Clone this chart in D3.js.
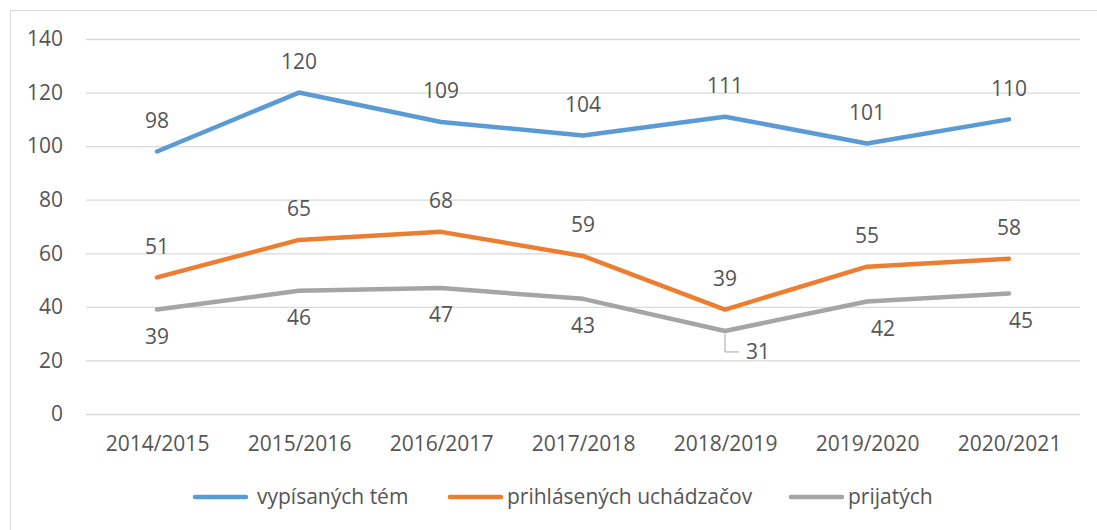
<!DOCTYPE html>
<html lang="sk">
<head>
<meta charset="UTF-8">
<title>Témy a uchádzači</title>
<script src="https://d3js.org/d3.v7.min.js"></script>
<style>
    body { margin: 0; background: #fff; font-family: "Open Sans", sans-serif; }
    svg { display: block; }
    text { fill: #555555; }
</style>
</head>
<body>
<svg id="chart" width="1097" height="530"></svg>
<script>
    const years = ["2014/2015", "2015/2016", "2016/2017", "2017/2018", "2018/2019", "2019/2020", "2020/2021"];
    const temy = [98, 120, 109, 104, 111, 101, 110];
    const uchadzaci = [51, 65, 68, 59, 39, 55, 58];
    const prijati = [39, 46, 47, 43, 31, 42, 45];
    const yTicks = [0, 20, 40, 60, 80, 100, 120, 140];

    const series = [
        { name: "vypísaných tém", values: temy, color: "#5B9BD5", labelPos: "above" },
        { name: "prihlásených uchádzačov", values: uchadzaci, color: "#ED7D31", labelPos: "above" },
        { name: "prijatých", values: prijati, color: "#A5A5A5", labelPos: "below" }
    ];

    const width = 1097, height = 530;
    const margin = {top: 39, right: 17, bottom: 116, left: 86};
    const fontSize = "21px";
    const svg = d3.select("#chart");

    // outer frame
    svg.append("rect")
        .attr("x", 10.5).attr("y", 10.5)
        .attr("width", width).attr("height", height)
        .attr("fill", "none").attr("stroke", "#d9d9d9");

    const x = d3.scalePoint()
        .domain(years)
        .range([margin.left, width - margin.right])
        .padding(0.5);

    const y = d3.scaleLinear()
        .domain([0, 140])
        .range([height - margin.bottom, margin.top]);

    // grid + y labels
    const yAxis = d3.axisLeft(y).tickValues(yTicks)
        .tickSize(-(width - margin.left - margin.right))
        .tickPadding(23);
    const gy = svg.append("g")
        .attr("transform", `translate(${margin.left},0)`)
        .call(yAxis);
    gy.select(".domain").remove();
    gy.selectAll("line").attr("stroke", "#d9d9d9").attr("stroke-width", 1.3);
    gy.selectAll("text").style("font-size", fontSize).attr("fill", "#555555")
        .attr("font-family", "Open Sans");

    const xAxis = d3.axisBottom(x).tickSize(0).tickPadding(22);
    const gx = svg.append("g")
        .attr("transform", `translate(0,${height - margin.bottom})`)
        .call(xAxis);
    gx.select(".domain").remove();
    gx.selectAll("text").style("font-size", fontSize).attr("fill", "#555555")
        .attr("font-family", "Open Sans");

    const line = d3.line()
        .x((d, i) => x(years[i]))
        .y(d => y(d));

    series.forEach(s => {
        svg.append("path")
            .datum(s.values)
            .attr("fill", "none")
            .attr("stroke", s.color)
            .attr("stroke-width", 4.5)
            .attr("stroke-linejoin", "round")
            .attr("stroke-linecap", "round")
            .attr("d", line);
    });

    // label nudges (dx, dy in px, leader line) where the original moved them
    const nudge = { "prijatých": { 4: [33, -6, true], 5: [16, 0], 6: [12, 0] } };

    series.forEach(s => {
        s.values.forEach((v, i) => {
            const n = (nudge[s.name] && nudge[s.name][i]) || [0, 0];
            const px = x(years[i]), py = y(v);
            const ly = py + (s.labelPos === "above" ? -31 : 27) + n[1];
            const lx = px + n[0];
            if (n[2]) {
                svg.append("path")
                    .attr("d", `M${px},${py + 3} V${ly} H${lx - 19}`)
                    .attr("fill", "none")
                    .attr("stroke", "#a5a5a5")
                    .attr("stroke-width", 1);
            }
            svg.append("text")
                .attr("x", lx)
                .attr("y", ly)
                .attr("dy", "0.35em")
                .attr("text-anchor", "middle")
                .style("font-size", fontSize)
                .text(v);
        });
    });

    // legend
    const legendY = 497;
    const legendX = [193, 448, 789];
    series.forEach((s, i) => {
        const g = svg.append("g").attr("transform", `translate(${legendX[i]},${legendY})`);
        g.append("line")
            .attr("x1", 2).attr("x2", 53)
            .attr("stroke", s.color)
            .attr("stroke-width", 4.5)
            .attr("stroke-linecap", "round");
        g.append("text")
            .attr("x", i === 0 ? 64 : 59)
            .attr("dy", "0.35em")
            .style("font-size", fontSize)
            .text(s.name);
    });
</script>
</body>
</html>
